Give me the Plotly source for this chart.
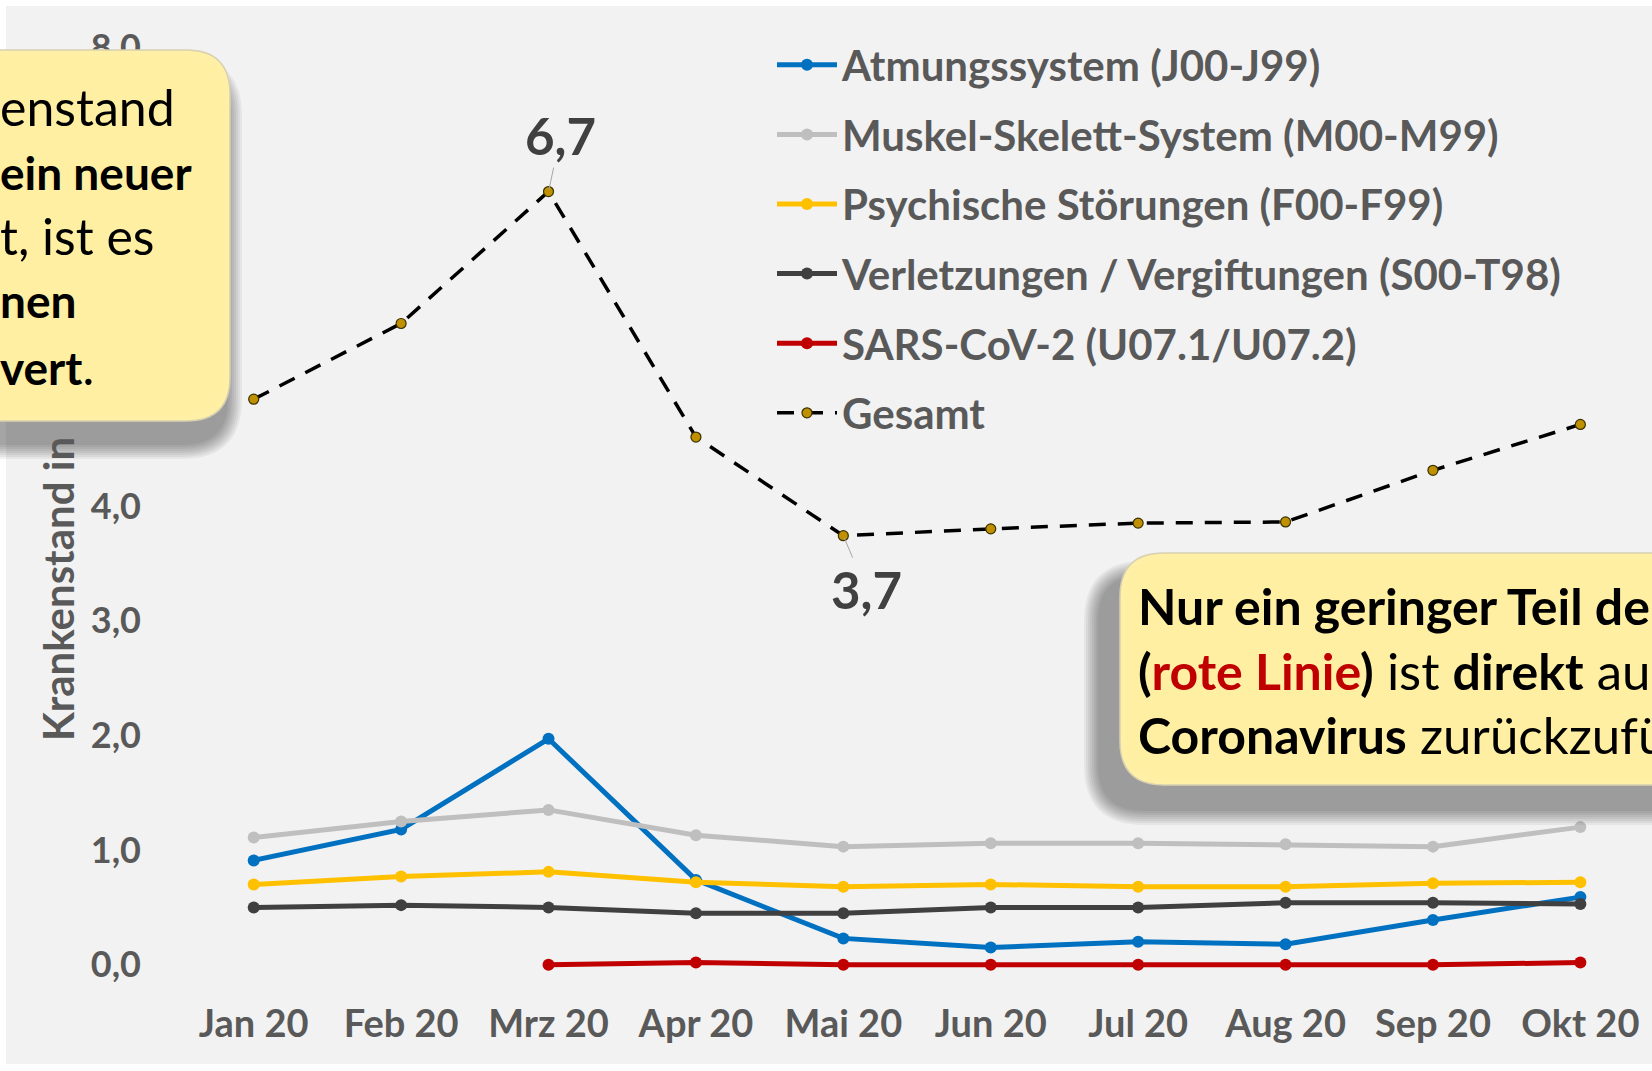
import plotly.graph_objects as go

# ---------------- data ----------------
months = ["Jan 20", "Feb 20", "Mrz 20", "Apr 20", "Mai 20", "Jun 20",
          "Jul 20", "Aug 20", "Sep 20", "Okt 20"]
atmung = [0.91, 1.18, 1.97, 0.74, 0.23, 0.15, 0.20, 0.18, 0.39, 0.59]
muskel = [1.11, 1.25, 1.35, 1.13, 1.03, 1.06, 1.06, 1.05, 1.03, 1.20]
psyche = [0.70, 0.77, 0.81, 0.72, 0.68, 0.70, 0.68, 0.68, 0.71, 0.72]
verletz = [0.50, 0.52, 0.50, 0.45, 0.45, 0.50, 0.50, 0.54, 0.54, 0.53]
sars = [None, None, 0.00, 0.02, 0.00, 0.00, 0.00, 0.00, 0.00, 0.02]
gesamt = [4.93, 5.59, 6.74, 4.60, 3.74, 3.80, 3.85, 3.86, 4.31, 4.71]
# 5,0 / 6,0 / 7,0 are hidden behind the callout box in the original
y_tick_vals = [0, 1, 2, 3, 4, 8]
y_tick_text = ["0,0", "1,0", "2,0", "3,0", "4,0", "8,0"]
series_names = ["Atmungssystem (J00-J99)", "Muskel-Skelett-System (M00-M99)",
                "Psychische Störungen (F00-F99)", "Verletzungen / Vergiftungen (S00-T98)",
                "SARS-CoV-2 (U07.1/U07.2)", "Gesamt"]
series_colors = ["#0070C0", "#BFBFBF", "#FFC000", "#404040", "#C00000", "#000000"]

# ---------------- layout geometry ----------------
W, H = 1652, 1071
ML, MR, MT, MB = 180, 0, 47, 89
PW, PH = W - ML - MR, H - MT - MB
FONT = "Lato"
GREY = "#595959"


def px2x(px):
    return (px - ML) / PW


def py2y(py):
    return (H - MB - py) / PH


def rrect(x0, y0, x1, y1, r):
    pts = [
        ("M", [(x0 + r, y0)]), ("L", [(x1 - r, y0)]), ("Q", [(x1, y0), (x1, y0 + r)]),
        ("L", [(x1, y1 - r)]), ("Q", [(x1, y1), (x1 - r, y1)]), ("L", [(x0 + r, y1)]),
        ("Q", [(x0, y1), (x0, y1 - r)]), ("L", [(x0, y0 + r)]), ("Q", [(x0, y0), (x0 + r, y0)]),
    ]
    s = ""
    for cmd, ps in pts:
        s += cmd + " ".join(f"{px2x(a):.5f},{py2y(b):.5f}" for a, b in ps) + " "
    return s + "Z"


fig = go.Figure()

data_series = [atmung, muskel, psyche, verletz, sars]
for i, vals in enumerate(data_series):
    fig.add_trace(go.Scatter(
        x=months, y=vals, name=series_names[i], mode="lines+markers",
        line=dict(color=series_colors[i], width=5),
        marker=dict(color=series_colors[i], size=12),
        legendgroup=f"g{i}", connectgaps=False, cliponaxis=False,
    ))

fig.add_trace(go.Scatter(
    x=months, y=gesamt, name=series_names[5], mode="lines+markers",
    line=dict(color="#000000", width=3.5, dash="17px,12px"),
    marker=dict(color="#BF9000", size=10, line=dict(color="#3a3000", width=1.2)),
    legendgroup="g5", cliponaxis=False,
))

shapes = []
# chart area background (white border around)
shapes.append(dict(type="rect", xref="paper", yref="paper", layer="below",
                   x0=px2x(6), x1=px2x(1700), y0=py2y(1064), y1=py2y(6),
                   fillcolor="#F2F2F2", line=dict(width=0)))


def add_box(x0, y0, x1, y1, r, dx, dy):
    for k in range(8):
        g = 16 - 2 * k
        shapes.append(dict(type="path", xref="paper", yref="paper", layer="above",
                           path=rrect(x0 + dx - g, y0 + dy - g, x1 + dx + g, y1 + dy + g, r + g),
                           fillcolor="rgba(0,0,0,0.05)", line=dict(width=0)))
    shapes.append(dict(type="path", xref="paper", yref="paper", layer="above",
                       path=rrect(x0, y0, x1, y1, r),
                       fillcolor="#FFF0A6", line=dict(color="#D8D0B0", width=1.5)))
    shapes.append(dict(type="path", xref="paper", yref="paper", layer="above",
                       path=rrect(x0 + 6, y0 + 6, x1 - 6, y1 - 6, r - 6),
                       fillcolor="#FFEFA2", line=dict(width=0)))


add_box(-80, 50, 230, 421, 44, -4, 22)
add_box(1120, 553, 1760, 785, 44, -20, 24)

annotations = []
# y axis title (visible part, the rest is hidden behind the callout)
annotations.append(dict(xref="paper", yref="paper", x=px2x(58), y=py2y(743),
                        xanchor="center", yanchor="bottom", textangle=-90,
                        text="<b>Krankenstand in</b>", showarrow=False,
                        font=dict(family=FONT, size=42, color=GREY)))
# data labels
annotations.append(dict(x="Mrz 20", y=gesamt[2], text="<b>6,7</b>", showarrow=True,
                        arrowhead=0, arrowwidth=1, arrowcolor="#A6A6A6", ax=12, ay=-56,
                        standoff=2, font=dict(family=FONT, size=51, color="#404040")))
annotations.append(dict(x="Mai 20", y=gesamt[4], text="<b>3,7</b>", showarrow=True,
                        arrowhead=0, arrowwidth=1, arrowcolor="#A6A6A6", ax=23, ay=54,
                        standoff=2, font=dict(family=FONT, size=51, color="#404040")))


def reg(t, size):
    return f"<span style='font-size:{size}px'>{t}</span>"


left_lines = [reg("enstand", 50), "<b>ein neuer</b>", reg("t, ist es", 50),
              "<b>nen</b>", "<b>vert</b>" + reg(".", 50)]
left_y = [107, 172, 236, 301, 366]
for t, yy in zip(left_lines, left_y):
    annotations.append(dict(xref="paper", yref="paper", x=px2x(-2), y=py2y(yy),
                            xanchor="left", yanchor="middle", text=t, showarrow=False,
                            align="left", font=dict(family=FONT, size=46, color="#000000")))

right_lines = ["<b>Nur ein geringer Teil de</b>",
               "<b>(<span style='color:#C00000'>rote Linie</span>)</b>" + reg(" ist ", 51)
               + "<b>direkt</b>" + reg(" au", 51),
               "<b>Coronavirus</b>" + reg(" zurückzufü", 51)]
right_y = [606, 670, 734]
for t, yy in zip(right_lines, right_y):
    annotations.append(dict(xref="paper", yref="paper", x=px2x(1136), y=py2y(yy),
                            xanchor="left", yanchor="middle", text=t, showarrow=False,
                            align="left", font=dict(family=FONT, size=50, color="#000000")))

fig.update_layout(
    width=W, height=H,
    margin=dict(l=ML, r=MR, t=MT, b=MB, pad=0),
    paper_bgcolor="#FFFFFF", plot_bgcolor="rgba(0,0,0,0)",
    font=dict(family=FONT, color=GREY),
    showlegend=True,
    legend=dict(x=px2x(772), y=py2y(31), xanchor="left", yanchor="top",
                bgcolor="rgba(0,0,0,0)", traceorder="grouped", tracegroupgap=12,
                itemwidth=60,
                font=dict(family=FONT, size=42, color=GREY, weight="bold")),
    shapes=shapes, annotations=annotations,
    xaxis=dict(type="category", range=[-0.5, 9.486], showgrid=False, zeroline=False,
               showline=False, ticks="", ticklabelstandoff=16,
               tickfont=dict(family=FONT, size=38, color=GREY, weight="bold")),
    yaxis=dict(range=[-0.15, 8], tickvals=y_tick_vals, ticktext=y_tick_text,
               showgrid=False, zeroline=False, showline=False, ticks="",
               ticklabelstandoff=38,
               tickfont=dict(family=FONT, size=36, color=GREY, weight="bold")),
)

fig.write_html("out.html", config={"displayModeBar": False},
               post_script="document.body.style.margin='0';document.body.style.overflow='hidden';")
